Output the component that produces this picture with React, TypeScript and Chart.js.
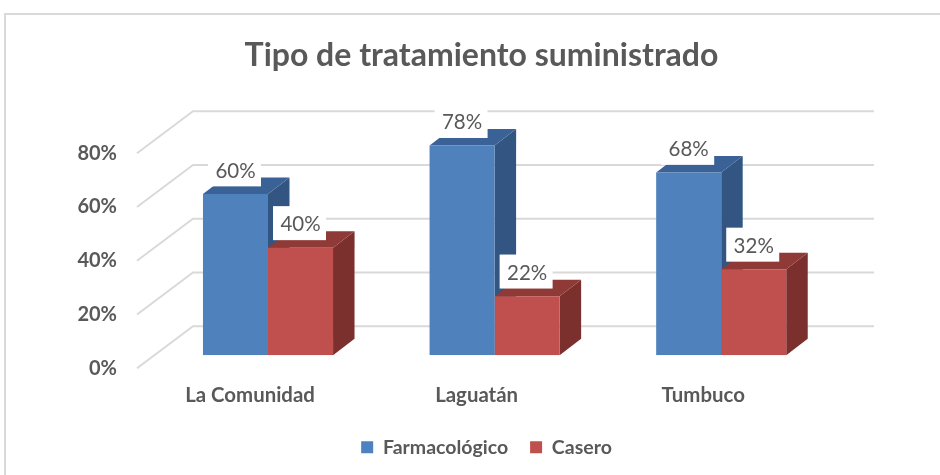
import React, { useEffect, useRef } from "react";
import { Chart, registerables } from "chart.js";

Chart.register(...registerables);

const categories = ["La Comunidad", "Laguatán", "Tumbuco"];
const farmacologico = [60, 78, 68];
const casero = [40, 22, 32];
const TEXT = "#595959";
const GRID = "#d9d9d9";
const FONT = "Lato, 'Open Sans', sans-serif";
const faces = [
  { front: "#4f81bd", top: "#3b6296", side: "#325581" },
  { front: "#c0504d", top: "#8f3a37", side: "#7c302e" },
];

const DX = 21.5;
const DY = 16.5;

const scene = {
  id: "scene",
  afterLayout(chart: any) {
    // the title sits a little left of the legend's centre
    chart.titleBlock.left -= 5;
    chart.titleBlock.right -= 5;
    // tick labels are clipped to the axis box, so widen it to hold them
    chart.scales.y.left = 60;
  },
  beforeDraw(chart: any) {
    const { ctx } = chart;
    ctx.save();
    ctx.strokeStyle = GRID;
    ctx.lineWidth = 2;
    ctx.beginPath();
    ctx.moveTo(5, 475);
    ctx.lineTo(5, 14);
    ctx.lineTo(940, 14);
    ctx.stroke();
    ctx.restore();
  },
  beforeDatasetsDraw(chart: any) {
    const { ctx, chartArea } = chart;
    const y = chart.scales.y;
    ctx.save();
    ctx.strokeStyle = GRID;
    ctx.lineWidth = 2;
    y.ticks.forEach((t: any) => {
      const p = y.getPixelForValue(t.value);
      ctx.beginPath();
      ctx.moveTo(chartArea.left - 17.7, p + 13);
      ctx.lineTo(chartArea.left + 38.3, p - 29);
      ctx.lineTo(chartArea.right + 39.5, p - 29);
      ctx.stroke();
    });
    chart.data.datasets.forEach((_: any, di: number) => {
      chart.getDatasetMeta(di).data.forEach((bar: any) => {
        const l = bar.x - bar.width / 2;
        const r = bar.x + bar.width / 2;
        ctx.fillStyle = faces[di].side;
        ctx.beginPath();
        ctx.moveTo(r, bar.y);
        ctx.lineTo(r + DX, bar.y - DY);
        ctx.lineTo(r + DX, bar.base - DY);
        ctx.lineTo(r, bar.base);
        ctx.closePath();
        ctx.fill();
        ctx.fillStyle = faces[di].top;
        ctx.beginPath();
        ctx.moveTo(l, bar.y);
        ctx.lineTo(l + DX, bar.y - DY);
        ctx.lineTo(r + DX, bar.y - DY);
        ctx.lineTo(r, bar.y);
        ctx.closePath();
        ctx.fill();
      });
    });
    ctx.restore();
  },
  afterDatasetsDraw(chart: any) {
    const { ctx } = chart;
    ctx.save();
    ctx.font = `20.5px ${FONT}`;
    ctx.textAlign = "center";
    ctx.textBaseline = "middle";
    chart.data.datasets.forEach((ds: any, di: number) => {
      chart.getDatasetMeta(di).data.forEach((bar: any, i: number) => {
        ctx.fillStyle = "#ffffff";
        ctx.fillRect(bar.x - 27.5, bar.y - 41.6, 53, 34);
        ctx.fillStyle = TEXT;
        ctx.fillText(`${ds.data[i]}%`, bar.x, bar.y - 23);
      });
    });
    ctx.restore();
  },
};

export default function App() {
  const ref = useRef<HTMLCanvasElement>(null);
  useEffect(() => {
    const chart = new Chart(ref.current!, {
      type: "bar",
      data: {
        labels: categories,
        datasets: [
          { label: "Farmacológico", data: farmacologico, backgroundColor: faces[0].front },
          { label: "Casero", data: casero, backgroundColor: faces[1].front },
        ],
      },
      plugins: [scene],
      options: {
        animation: false,
        responsive: false,
        layout: { padding: { left: 138.5, right: 105.5, top: 0, bottom: 8 } },
        datasets: { bar: { categoryPercentage: 0.574, barPercentage: 1 } },
        plugins: {
          title: {
            display: true,
            text: "Tipo de tratamiento suministrado",
            color: TEXT,
            font: { family: FONT, size: 32, weight: "bold" },
            padding: { top: 36, bottom: 65.8 },
          },
          legend: {
            position: "bottom",
            labels: {
              boxWidth: 12,
              boxHeight: 12,
              padding: 22,
              color: TEXT,
              font: { family: FONT, size: 19.5, weight: "bold" },
            },
          },
          tooltip: { enabled: false },
        },
        scales: {
          x: {
            grid: { display: false, drawTicks: false },
            border: { display: false },
            afterFit: (s: any) => { s.height = 60.2; },
            ticks: {
              color: TEXT,
              labelOffset: -18,
              padding: 27.5,
              maxRotation: 0,
              font: { family: FONT, size: 20.4, weight: "bold" },
            },
          },
          y: {
            min: 0,
            max: 80,
            grid: { display: false, drawTicks: false },
            border: { display: false },
            afterFit: (s: any) => { s.width = 16.2; },
            ticks: {
              stepSize: 20,
              color: TEXT,
              labelOffset: 13,
              padding: 37.7,
              callback: (v: any) => `${v}%`,
              font: { family: FONT, size: 20, weight: "bold" },
            },
          },
        },
      },
    } as any);
    return () => chart.destroy();
  }, []);
  return (
    <canvas
      ref={ref}
      width={940}
      height={475}
      style={{ position: "absolute", left: 0, top: 0, width: 940, height: 475, display: "block" }}
    />
  );
}
